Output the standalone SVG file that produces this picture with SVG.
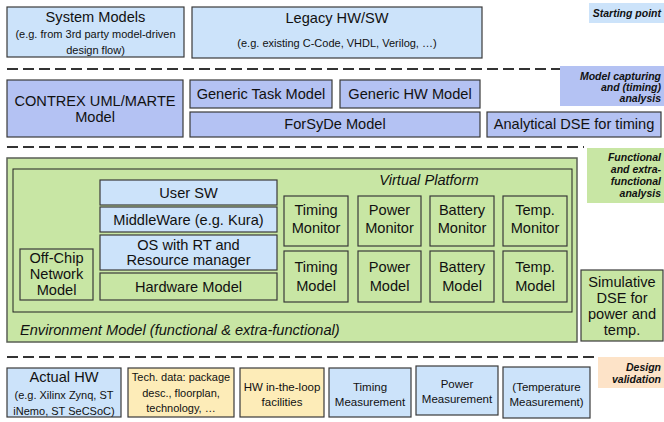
<svg xmlns="http://www.w3.org/2000/svg" width="664" height="422" viewBox="0 0 664 422">
<style>
text{font-family:"Liberation Sans",Arial,sans-serif;fill:#111;text-anchor:middle}
.b{stroke:#3a3a3a;stroke-width:1.2}
.lb{fill:#cce3fa}
.pb{fill:#b4c2f3}
.gr{fill:#c8e6a4}
.ye{fill:#fdecb8}
.t14{font-size:14.6px}
.t11{font-size:11px}
.t12{font-size:11.5px}
.it{font-style:italic}
.lab{font-size:10.5px;font-weight:bold;font-style:italic;text-anchor:end}
.dash{stroke:#333;stroke-width:2;stroke-dasharray:11 5;fill:none}
</style>
<rect width="664" height="422" fill="#fff"/>
<g id="separators">
<line class="dash" x1="7" y1="69" x2="560" y2="69"/>
<line class="dash" x1="7" y1="147" x2="584" y2="147"/>
<line class="dash" x1="7" y1="357" x2="597" y2="357"/>
</g>
<g id="label-starting"><rect x="589" y="3" width="75" height="20" class="lb"/><text class="lab" x="661" y="17">Starting point</text></g>
<g id="label-model"><rect x="560" y="66" width="104" height="40" class="pb"/><text class="lab" x="661" y="80">Model capturing</text><text class="lab" x="661" y="91">and (timing)</text><text class="lab" x="661" y="102">analysis</text></g>
<g id="label-functional"><rect x="587" y="148" width="77" height="55" class="gr"/><text class="lab" x="661" y="161">Functional</text><text class="lab" x="661" y="173">and extra-</text><text class="lab" x="661" y="185">functional</text><text class="lab" x="661" y="197">analysis</text></g>
<g id="label-design"><rect x="598" y="357" width="66" height="31" fill="#fde3c8"/><text class="lab" x="661" y="371">Design</text><text class="lab" x="661" y="383">validation</text></g>

<g id="system-models"><rect x="7" y="7" width="177" height="50" class="b lb"/><text class="t14" x="95.5" y="22">System Models</text><text class="t11" x="95.5" y="38">(e.g. from 3rd party model-driven</text><text class="t11" x="95.5" y="54">design flow)</text></g>
<g id="legacy"><rect x="192" y="7" width="290" height="51" class="b lb"/><text class="t14" x="337" y="23">Legacy HW/SW</text><text class="t11" x="337" y="47">(e.g. existing C-Code, VHDL, Verilog, …)</text></g>

<g id="contrex"><rect x="7" y="80" width="176" height="57" class="b pb"/><text class="t14" x="95" y="106">CONTREX UML/MARTE</text><text class="t14" x="95" y="122">Model</text></g>
<g id="generic-task"><rect x="190" y="80" width="142" height="28" class="b pb"/><text class="t14" x="261" y="99">Generic Task Model</text></g>
<g id="generic-hw"><rect x="340" y="80" width="140" height="28" class="b pb"/><text class="t14" x="410" y="99">Generic HW Model</text></g>
<g id="forsyde"><rect x="190" y="112" width="290" height="25" class="b pb"/><text class="t14" x="335" y="129">ForSyDe Model</text></g>
<g id="analytical"><rect x="487" y="112" width="174" height="25" class="b pb"/><text class="t14" x="574" y="129">Analytical DSE for timing</text></g>

<g id="environment"><rect x="7" y="158" width="570" height="184" class="gr" stroke="#5a5f55" stroke-width="1.5"/><text class="t14 it" x="20" y="335" style="text-anchor:start">Environment Model (functional &amp; extra-functional)</text></g>
<g id="virtual-platform"><rect x="13" y="169" width="559" height="143" fill="none" stroke="#222" stroke-width="1"/><text class="t14 it" x="429" y="185">Virtual Platform</text></g>
<g id="user-sw"><rect x="100" y="180" width="177" height="25" class="b lb"/><text class="t14" x="188.5" y="198">User SW</text></g>
<g id="middleware"><rect x="100" y="207" width="177" height="25" class="b lb"/><text class="t14" x="188.5" y="225">MiddleWare (e.g. Kura)</text></g>
<g id="os"><rect x="100" y="235" width="177" height="35" class="b lb"/><text class="t14" x="188.5" y="250">OS with RT and</text><text class="t14" x="188.5" y="265">Resource manager</text></g>
<g id="hardware-model"><rect x="100" y="273" width="177" height="27" class="b gr"/><text class="t14" x="188.5" y="292">Hardware Model</text></g>
<g id="offchip"><rect x="20" y="249" width="73" height="51" class="b gr"/><text class="t14" x="56.5" y="263">Off-Chip</text><text class="t14" x="56.5" y="279">Network</text><text class="t14" x="56.5" y="295">Model</text></g>
<g id="timing-monitor"><rect x="284" y="196" width="64" height="50" class="b gr"/><text class="t14" x="316" y="215">Timing</text><text class="t14" x="316" y="233">Monitor</text></g>
<g id="power-monitor"><rect x="358" y="196" width="63" height="50" class="b gr"/><text class="t14" x="389.5" y="215">Power</text><text class="t14" x="389.5" y="233">Monitor</text></g>
<g id="battery-monitor"><rect x="430" y="196" width="64" height="50" class="b gr"/><text class="t14" x="462" y="215">Battery</text><text class="t14" x="462" y="233">Monitor</text></g>
<g id="temp-monitor"><rect x="503" y="196" width="64" height="50" class="b gr"/><text class="t14" x="535" y="215">Temp.</text><text class="t14" x="535" y="233">Monitor</text></g>
<g id="timing-model"><rect x="284" y="251" width="64" height="51" class="b gr"/><text class="t14" x="316" y="272">Timing</text><text class="t14" x="316" y="291">Model</text></g>
<g id="power-model"><rect x="358" y="251" width="63" height="51" class="b gr"/><text class="t14" x="389.5" y="272">Power</text><text class="t14" x="389.5" y="291">Model</text></g>
<g id="battery-model"><rect x="430" y="251" width="64" height="51" class="b gr"/><text class="t14" x="462" y="272">Battery</text><text class="t14" x="462" y="291">Model</text></g>
<g id="temp-model"><rect x="503" y="251" width="64" height="51" class="b gr"/><text class="t14" x="535" y="272">Temp.</text><text class="t14" x="535" y="291">Model</text></g>
<g id="simulative"><rect x="581" y="270" width="82" height="71" class="b gr"/><text class="t14" x="622" y="287">Simulative</text><text class="t14" x="622" y="303">DSE for</text><text class="t14" x="622" y="319">power and</text><text class="t14" x="622" y="335">temp.</text></g>

<g id="actual-hw"><rect x="7" y="368" width="114" height="49" class="b lb"/><text class="t14" x="64" y="382">Actual HW</text><text class="t11" x="64" y="399">(e.g. Xilinx Zynq, ST</text><text class="t11" x="64" y="415">iNemo, ST SeCSoC)</text></g>
<g id="tech-data"><rect x="128" y="368" width="106" height="49" class="b ye"/><text class="t11" x="181" y="381">Tech. data: package</text><text class="t11" x="181" y="397">desc., floorplan,</text><text class="t11" x="181" y="412">technology, …</text></g>
<g id="hw-loop"><rect x="240" y="368" width="84" height="49" class="b ye"/><text class="t12" x="282" y="391">HW in-the-loop</text><text class="t12" x="282" y="406">facilities</text></g>
<g id="timing-meas"><rect x="329" y="368" width="82" height="49" class="b lb"/><text class="t12" x="370" y="391">Timing</text><text class="t12" x="370" y="406">Measurement</text></g>
<g id="power-meas"><rect x="416" y="366" width="82" height="49" class="b lb"/><text class="t12" x="457" y="388">Power</text><text class="t12" x="457" y="403">Measurement</text></g>
<g id="temp-meas"><rect x="503" y="367" width="87" height="51" class="b lb"/><text class="t12" x="546.5" y="391">(Temperature</text><text class="t12" x="546.5" y="406">Measurement)</text></g>
</svg>
